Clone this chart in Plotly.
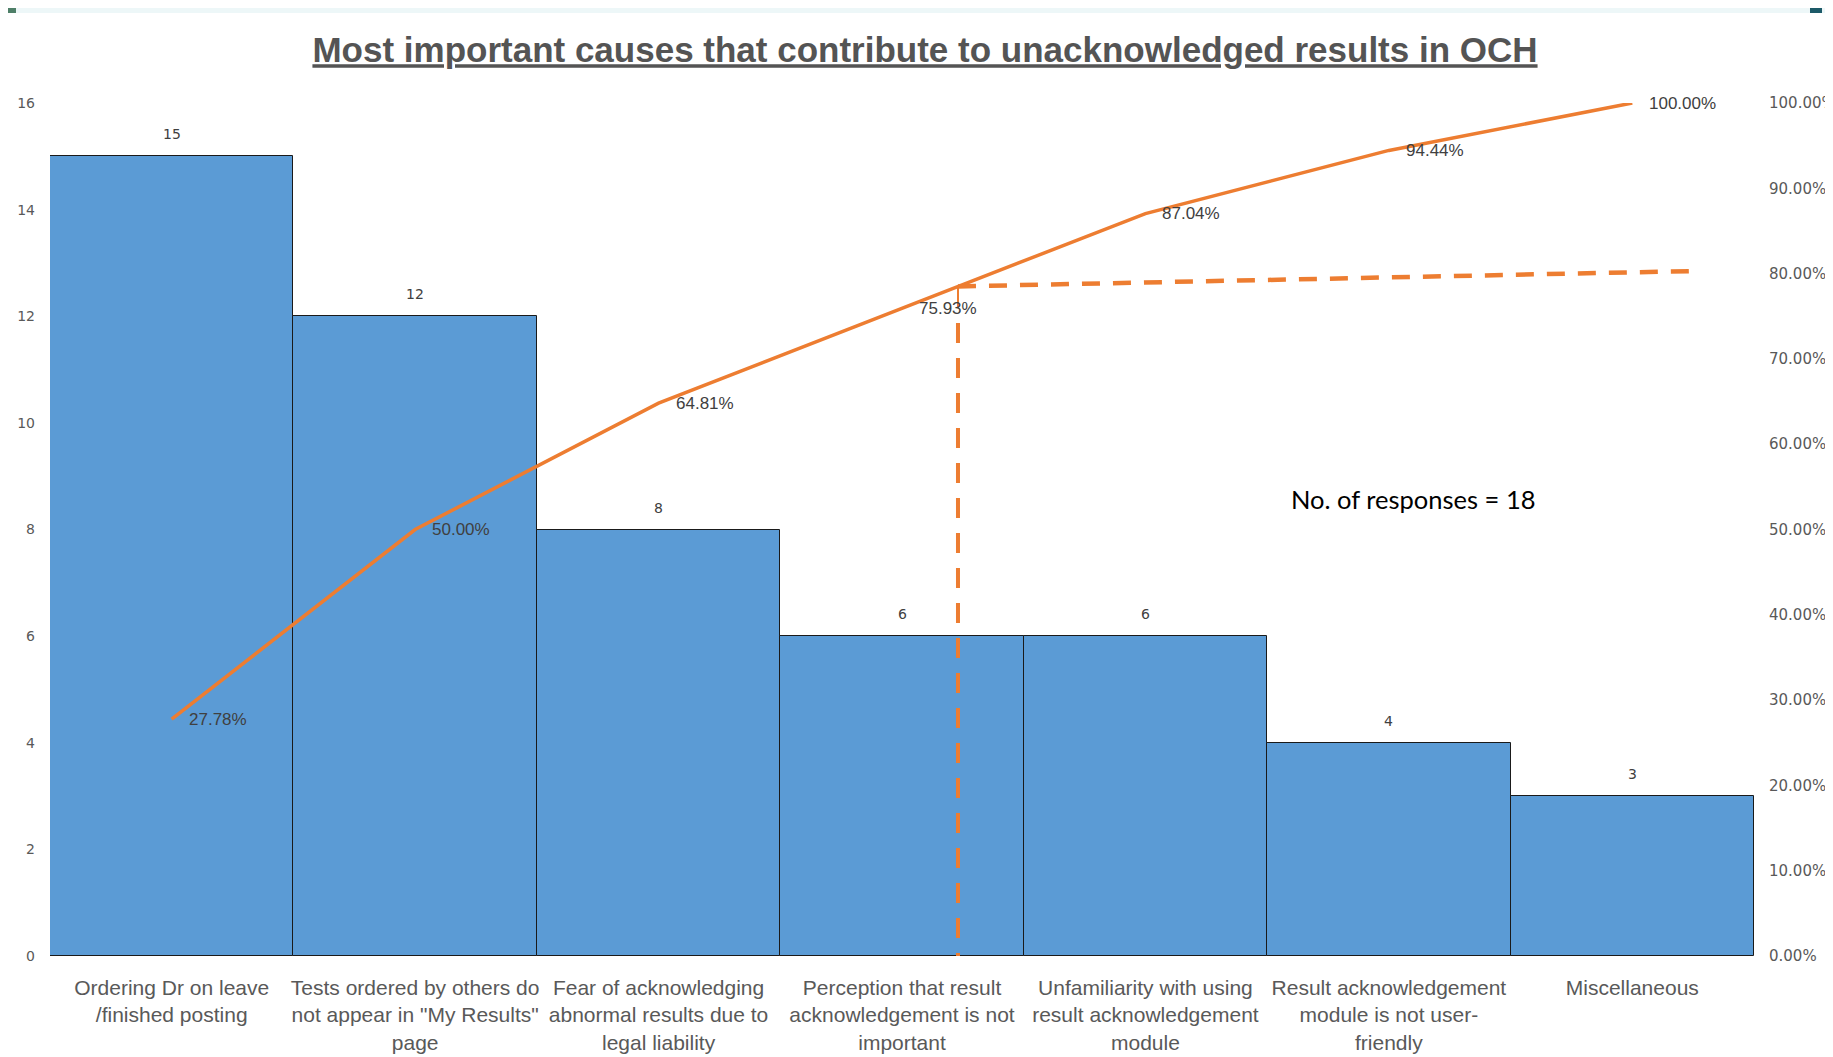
import plotly.graph_objects as go

categories = [
    "Ordering Dr on leave /finished posting",
    "Tests ordered by others do not appear in \"My Results\" page",
    "Fear of acknowledging abnormal results due to legal liability",
    "Perception that result acknowledgement is not important",
    "Unfamiliarity with using result acknowledgement module",
    "Result acknowledgement module is not user-friendly",
    "Miscellaneous",
]
tick_labels = [
    "Ordering Dr on leave<br>/finished posting",
    "Tests ordered by others do<br>not appear in \"My Results\"<br>page",
    "Fear of acknowledging<br>abnormal results due to<br>legal liability",
    "Perception that result<br>acknowledgement is not<br>important",
    "Unfamiliarity with using<br>result acknowledgement<br>module",
    "Result acknowledgement<br>module is not user-<br>friendly",
    "Miscellaneous",
]
counts = [15, 12, 8, 6, 6, 4, 3]
cumulative = [0.2778, 0.5000, 0.6481, 0.7593, 0.8704, 0.9444, 1.0000]
cum_labels = ["27.78%", "50.00%", "64.81%", "75.93%", "87.04%", "94.44%", "100.00%"]
left_ticks = [0, 2, 4, 6, 8, 10, 12, 14, 16]
right_ticks = [0.0, 0.1, 0.2, 0.3, 0.4, 0.5, 0.6, 0.7, 0.8, 0.9, 1.0]
title_text = "Most important causes that contribute to unacknowledged results in OCH"
note_text = "No. of responses = 18"

# hand-drawn 80% cut-off guide (category index, cumulative share)
cut_x_start, cut_x_end = 3.23, 6.25
cut_y_start, cut_y_end = 0.785, 0.803
cut_solid_end, cut_dash_top = 0.760, 0.742

FONT = "Liberation Sans, Arial, sans-serif"
ORANGE = "#ED7D31"
BLUE = "#5B9BD5"

# the page body adds an 8px offset; figure is sized so the plot lands where the reference has it
W, H = 1825, 1049
L, R, T, B = 42, 79, 95, 101
PW, PH = W - L - R, H - T - B

fig = go.Figure()
fig.add_trace(go.Bar(
    x=categories, y=counts,
    marker=dict(color=BLUE, line=dict(color="#1a1a1a", width=1)),
    hoverinfo="x+y", showlegend=False,
))
fig.add_trace(go.Scatter(
    x=categories, y=cumulative, yaxis="y2",
    mode="lines", line=dict(color=ORANGE, width=3.5),
    cliponaxis=False, showlegend=False,
))

annotations = []
for c, v in zip(categories, counts):
    annotations.append(dict(
        x=c, y=v, xref="x", yref="y", text=str(v), showarrow=False,
        yshift=22, font=dict(family="DejaVu Sans", size=14, color="#404040"),
    ))
for c, v, t in zip(categories, cumulative, cum_labels):
    annotations.append(dict(
        x=c, y=v, xref="x", yref="y2", text=t, showarrow=False,
        xanchor="left", xshift=15, font=dict(family=FONT, size=17, color="#404040"),
    ))
annotations.append(dict(
    x=5.1, y=0.536, xref="x", yref="y2", text=note_text, showarrow=False,
    font=dict(family="Lato, Open Sans, sans-serif", size=25.5, color="#000000"),
))

def px_x(v):
    return (v - L) / PW

def px_y(v):
    return 1 + (T - v) / PH

shapes = [
    # top decorative strip
    dict(type="rect", xref="paper", yref="paper", x0=px_x(0), x1=px_x(W),
         y0=px_y(5), y1=px_y(0), fillcolor="#EDF7F8", line=dict(width=0), layer="below"),
    dict(type="rect", xref="paper", yref="paper", x0=px_x(0), x1=px_x(8),
         y0=px_y(5), y1=px_y(0), fillcolor="#4E7F68", line=dict(width=0)),
    dict(type="rect", xref="paper", yref="paper", x0=px_x(1802), x1=px_x(1814),
         y0=px_y(5), y1=px_y(0), fillcolor="#1D5A68", line=dict(width=0)),
    # 80% guide
    dict(type="line", xref="x", yref="y2", x0=cut_x_start, x1=cut_x_start, y0=cut_dash_top, y1=0,
         line=dict(color=ORANGE, width=4, dash="20px,15px")),
    dict(type="line", xref="x", yref="y2", x0=cut_x_start, x1=cut_x_start, y0=cut_solid_end, y1=cut_y_start,
         line=dict(color=ORANGE, width=2)),
    dict(type="line", xref="x", yref="y2", x0=cut_x_start, x1=cut_x_end, y0=cut_y_start, y1=cut_y_end,
         line=dict(color=ORANGE, width=4.5, dash="18px,13px")),
]

fig.update_layout(
    width=W, height=H,
    margin=dict(l=L, r=R, t=T, b=B, autoexpand=False),
    paper_bgcolor="white", plot_bgcolor="white",
    bargap=0,
    title=dict(
        text="<b><u>" + title_text + "</u></b>",
        x=917/W, xanchor="center", xref="container",
        y=1 - 42/H, yanchor="middle", yref="container",
        font=dict(family=FONT, size=35, color="#545454"),
    ),
    xaxis=dict(
        tickvals=categories, ticktext=tick_labels,
        range=[-0.5, 6.5], showgrid=False, showline=False, zeroline=False,
        ticks="", tickangle=0, ticklabelstandoff=17,
        tickfont=dict(family=FONT, size=21, color="#595959"),
    ),
    yaxis=dict(
        range=[0, 16], tickvals=left_ticks, showgrid=False, showline=False, zeroline=False,
        ticks="", ticklabelstandoff=14,
        tickfont=dict(family="DejaVu Sans", size=14, color="#595959"),
    ),
    yaxis2=dict(
        range=[0, 1], tickvals=right_ticks, tickformat=".2%", overlaying="y", side="right",
        showgrid=False, showline=False, zeroline=False, ticks="", ticklabelstandoff=14,
        tickfont=dict(family="DejaVu Sans", size=15, color="#595959"),
    ),
    annotations=annotations,
    shapes=shapes,
)

fig.write_html("out.html")
